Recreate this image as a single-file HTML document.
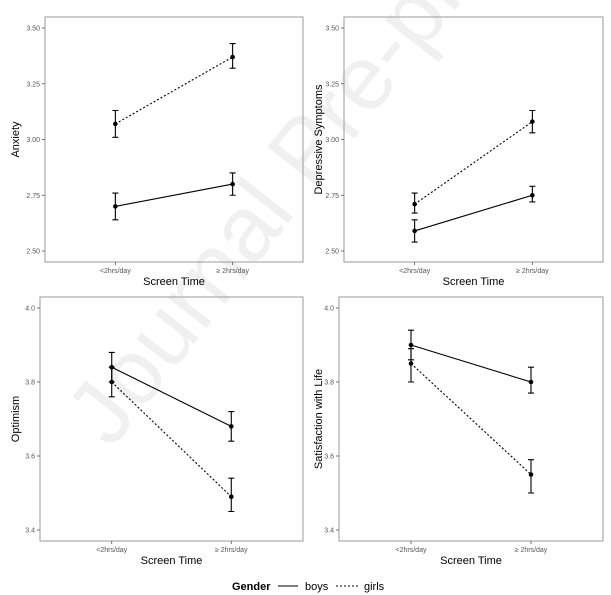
<!DOCTYPE html>
<html><head><meta charset="utf-8"><style>
body{margin:0;background:#fff}
svg{display:block;font-family:"Liberation Sans",Arial,sans-serif}
</style></head><body>
<svg id="c" width="611" height="595" viewBox="0 0 611 595">
<text x="0" y="0" transform="translate(330,170) rotate(-52)" font-size="92" fill="#000" fill-opacity="0.06" text-anchor="middle">Journal Pre-proof</text>
<g>
<text x="232" y="590" font-size="11" font-weight="bold" fill="#000">Gender</text>
<line x1="278" y1="586" x2="298" y2="586" stroke="#000" stroke-width="1.1"/>
<text x="305" y="590" font-size="11" fill="#000">boys</text>
<line x1="336" y1="586" x2="358" y2="586" stroke="#000" stroke-width="1.1" stroke-dasharray="2,2"/>
<text x="364" y="590" font-size="11" fill="#000">girls</text>
</g>
</svg>
<script>
const categories = ["<2hrs/day", "≥ 2hrs/day"];
const titles = ["Anxiety", "Depressive Symptoms", "Optimism", "Satisfaction with Life"];
const ticksTop = [2.50, 2.75, 3.00, 3.25, 3.50];
const ticksBottom = [3.4, 3.6, 3.8, 4.0];
const anxietyBoys = [2.70, 2.80];
const anxietyBoysLo = [2.64, 2.75];
const anxietyBoysHi = [2.76, 2.85];
const anxietyGirls = [3.07, 3.37];
const anxietyGirlsLo = [3.01, 3.32];
const anxietyGirlsHi = [3.13, 3.43];
const depBoys = [2.59, 2.75];
const depBoysLo = [2.54, 2.72];
const depBoysHi = [2.64, 2.79];
const depGirls = [2.71, 3.08];
const depGirlsLo = [2.67, 3.03];
const depGirlsHi = [2.76, 3.13];
const optBoys = [3.84, 3.68];
const optBoysLo = [3.80, 3.64];
const optBoysHi = [3.88, 3.72];
const optGirls = [3.80, 3.49];
const optGirlsLo = [3.76, 3.45];
const optGirlsHi = [3.84, 3.54];
const satBoys = [3.90, 3.80];
const satBoysLo = [3.86, 3.77];
const satBoysHi = [3.94, 3.84];
const satGirls = [3.85, 3.55];
const satGirlsLo = [3.80, 3.50];
const satGirlsHi = [3.89, 3.59];

const NS = "http://www.w3.org/2000/svg";
const svg = document.getElementById("c");
function mk(tag, attrs, parent) {
  const e = document.createElementNS(NS, tag);
  for (const k in attrs) e.setAttribute(k, attrs[k]);
  (parent || svg).appendChild(e);
  return e;
}
const panels = [
  {x0:45, x1:303, y0:17, y1:262, tx:15, ticks:ticksTop, dmin:2.50, dmax:3.50, fmt:2, title:titles[0], key:"anxiety",
   boys:[anxietyBoys,anxietyBoysLo,anxietyBoysHi], girls:[anxietyGirls,anxietyGirlsLo,anxietyGirlsHi]},
  {x0:344, x1:603, y0:17, y1:262, tx:318, ticks:ticksTop, dmin:2.50, dmax:3.50, fmt:2, title:titles[1], key:"depressive",
   boys:[depBoys,depBoysLo,depBoysHi], girls:[depGirls,depGirlsLo,depGirlsHi]},
  {x0:40, x1:303, y0:297, y1:541, tx:15, ticks:ticksBottom, dmin:3.4, dmax:4.0, fmt:1, title:titles[2], key:"optimism",
   boys:[optBoys,optBoysLo,optBoysHi], girls:[optGirls,optGirlsLo,optGirlsHi]},
  {x0:339, x1:603, y0:297, y1:541, tx:318, ticks:ticksBottom, dmin:3.4, dmax:4.0, fmt:1, title:titles[3], key:"satisfaction",
   boys:[satBoys,satBoysLo,satBoysHi], girls:[satGirls,satGirlsLo,satGirlsHi]}
];
panels.forEach(p => {
  const g = mk("g", {});
  
  
  const pad = 11;
  const y = v => (p.y1 - pad) - (v - p.dmin) / (p.dmax - p.dmin) * ((p.y1 - pad) - (p.y0 + pad));
  const w = p.x1 - p.x0;
  const x = i => p.x0 + w * (0.6 + i) / 2.2;
  const r = mk("rect", {x:p.x0, y:p.y0, width:w, height:p.y1-p.y0, fill:"none", stroke:"#9a9a9a", "stroke-width":1}, g);
  
  
  p.ticks.forEach(t => {
    const tl = mk("line", {x1:p.x0-3, x2:p.x0, y1:y(t), y2:y(t), stroke:"#555", "stroke-width":0.8}, g);
    
    
    const tx = mk("text", {x:p.x0-5, y:y(t)+2.5, "font-size":7, fill:"#555", "text-anchor":"end"}, g);
    tx.textContent = t.toFixed(p.fmt);
    
    
  });
  categories.forEach((c, i) => {
    const tl = mk("line", {x1:x(i), x2:x(i), y1:p.y1, y2:p.y1+3, stroke:"#555", "stroke-width":0.8}, g);
    
    
    const tx = mk("text", {x:x(i), y:p.y1+11, "font-size":7, fill:"#555", "text-anchor":"middle"}, g);
    tx.textContent = c;
    
    
  });
  const xt = mk("text", {x:(p.x0+p.x1)/2, y:p.y1+23, "font-size":11, fill:"#000", "text-anchor":"middle"}, g);
  xt.textContent = "Screen Time";
  
  
  const yt = mk("text", {x:0, y:0, transform:`translate(${p.tx+4},${(p.y0+p.y1)/2}) rotate(-90)`, "font-size":11, fill:"#000", "text-anchor":"middle"}, g);
  yt.textContent = p.title;
  
  
  [["boys", p.boys, null], ["girls", p.girls, "2,2"]].forEach(([name, s, dash]) => {
    const [m, lo, hi] = s;
    const ln = mk("line", {x1:x(0), y1:y(m[0]), x2:x(1), y2:y(m[1]), stroke:"#000", "stroke-width":1.1}, g);
    if (dash) ln.setAttribute("stroke-dasharray", dash);
    
    
    m.forEach((v, i) => {
      const eb = mk("path", {d:`M${x(i)-3},${y(hi[i])}H${x(i)+3}M${x(i)},${y(hi[i])}V${y(lo[i])}M${x(i)-3},${y(lo[i])}H${x(i)+3}`, stroke:"#000", "stroke-width":1.1, fill:"none"}, g);
      
      
      const pt = mk("circle", {cx:x(i), cy:y(v), r:2.3, fill:"#000"}, g);
      
      
    });
  });
});
</script>
</body></html>
